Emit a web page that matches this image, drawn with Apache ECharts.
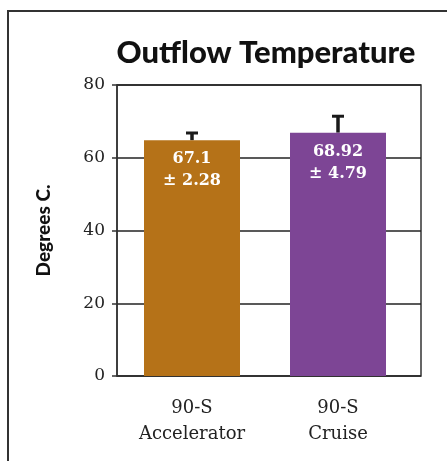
<!DOCTYPE html>
<html><head><meta charset="utf-8">
<script src="https://cdn.jsdelivr.net/npm/echarts@6/dist/echarts.min.js"></script>
<style>html,body{margin:0;padding:0;background:#fff}#c{width:447px;height:461px}</style>
</head><body><div id="c"></div>
<script>
const categories = ['90-S\nAccelerator', '90-S\nCruise'];
const barValues = [64.8, 66.9];
const errorValues = [2.28, 4.79];
const meanLabels = ['67.1', '68.92'];
const errLabels = ['2.28', '4.79'];
const barColors = ['#B57218', '#7D4595'];
const yTicks = [0, 20, 40, 60, 80];

const chart = echarts.init(document.getElementById('c'), null, {renderer: 'canvas'});
const serif = 'DejaVu Serif';
chart.setOption({
  animation: false,
  title: {
    text: 'Outflow Temperature', left: 261, top: 32, textAlign: 'center',
    textStyle: {fontFamily: 'Lato', fontWeight: 900, fontSize: 31, color: '#111'}
  },
  graphic: [
    {type: 'line', shape: {x1: 8, y1: 11, x2: 8, y2: 461}, style: {stroke: '#333', lineWidth: 2}},
    {type: 'line', shape: {x1: 7, y1: 11, x2: 447, y2: 11}, style: {stroke: '#333', lineWidth: 2}}
  ],
  grid: [
    {left: 117, right: 26, top: 85, bottom: 85, show: true, borderColor: '#333', borderWidth: 1.5},
    {left: 119, right: 36, top: 85, bottom: 85}
  ],
  xAxis: [
    {type: 'category', gridIndex: 0, data: categories, show: false},
    {type: 'category', gridIndex: 1, data: categories, axisLine: {show: false}, axisTick: {show: false},
     axisLabel: {fontFamily: serif, fontSize: 18, color: '#222', lineHeight: 26, margin: 19}}
  ],
  yAxis: [
    {type: 'value', gridIndex: 0, min: 0, max: 80, interval: 20,
     name: 'Degrees C.', nameLocation: 'middle', nameGap: 64, nameRotate: 90,
     nameTextStyle: {fontFamily: 'Lato', fontWeight: 900, fontSize: 19, color: '#111'},
     axisLine: {show: true, lineStyle: {color: '#333', width: 1.5}},
     axisTick: {show: true, length: 5, lineStyle: {color: '#333', width: 1.5}},
     axisLabel: {fontFamily: serif, fontSize: 17, color: '#222', margin: 12,
       formatter: v => yTicks.includes(v) ? String(v) : ''},
     splitLine: {show: true, lineStyle: {color: '#222', width: 1.5}}},
    {type: 'value', gridIndex: 1, min: 0, max: 80, show: false}
  ],
  series: [
    {type: 'bar', xAxisIndex: 1, yAxisIndex: 1, barWidth: 96, z: 3,
     data: barValues.map((v, i) => ({value: v, itemStyle: {color: barColors[i]}})),
     label: {show: true, position: 'insideTop', distance: 8, color: '#fff',
       fontFamily: serif, fontWeight: 'bold', fontSize: 16, lineHeight: 22,
       formatter: p => meanLabels[p.dataIndex] + '\n± ' + errLabels[p.dataIndex]}},
    {type: 'custom', xAxisIndex: 1, yAxisIndex: 1, z: 2,
     data: barValues.map((v, i) => [i, v, v + errorValues[i]]),
     renderItem: (params, api) => {
       const base = api.coord([api.value(0), api.value(1)]);
       const top = api.coord([api.value(0), api.value(2)]);
       return {type: 'group', children: [
         {type: 'line', shape: {x1: base[0], y1: base[1], x2: top[0], y2: top[1]}, style: {stroke: '#1a1a1a', lineWidth: 3.5}},
         {type: 'line', shape: {x1: top[0] - 6, y1: top[1] + 1, x2: top[0] + 6, y2: top[1] + 1}, style: {stroke: '#1a1a1a', lineWidth: 3}}
       ]};
     }}
  ]
});
</script></body></html>
